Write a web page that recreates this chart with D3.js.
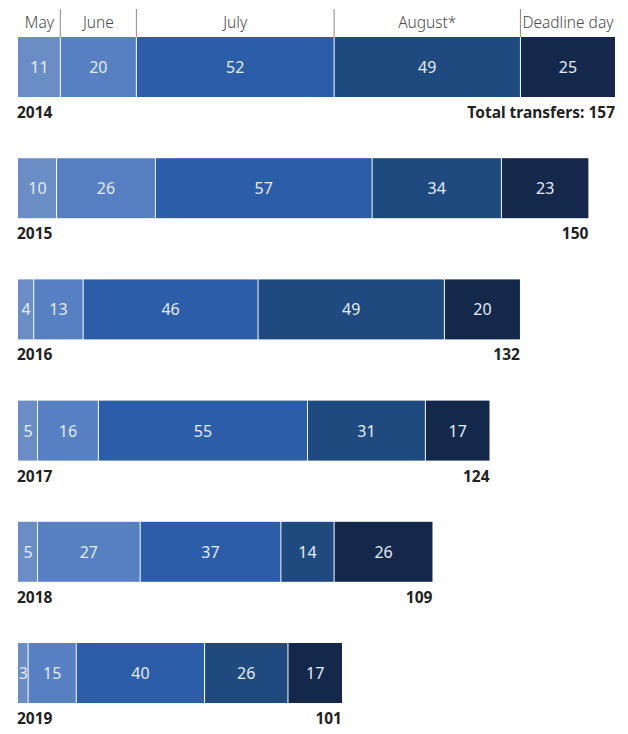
<!DOCTYPE html>
<html>
<head>
<meta charset="utf-8">
<script src="https://cdn.jsdelivr.net/npm/d3@7"></script>
<style>
  body { margin: 0; background: #fff; }
  svg { display: block; font-family: "Noto Sans", "Open Sans", sans-serif; }
  .month { font-size: 15.5px; fill: #4a4a4a; font-weight: 300; }
  .val { font-size: 16px; fill: #e4ecf7; }
  .year, .total { font-size: 15.5px; font-weight: 700; fill: #222; }
</style>
</head>
<body>
<svg id="chart" width="628" height="734"></svg>
<script>
const months = ["May", "June", "July", "August*", "Deadline day"];
const years = ["2014", "2015", "2016", "2017", "2018", "2019"];
const may      = [11, 10, 4, 5, 5, 3];
const june     = [20, 26, 13, 16, 27, 15];
const july     = [52, 57, 46, 55, 37, 40];
const august   = [49, 34, 49, 31, 14, 26];
const deadline = [25, 23, 20, 17, 26, 17];
const totals   = [157, 150, 132, 124, 109, 101];

const colors = ["#6b8dc6", "#5680c2", "#2c5da9", "#1f4a80", "#13284a"];

const rows = years.map((y, i) => ({
    year: y,
    total: totals[i],
    values: [may[i], june[i], july[i], august[i], deadline[i]]
}));

const svg = d3.select("#chart");

// all rows share one scale, except 2019 which the original draws narrower
const x = d3.scaleLinear().domain([0, 157]).range([18, 615]);
const x2019 = d3.scaleLinear().domain([0, 101]).range([18, 342]);

// top of each row's bar
const y = d3.scaleLinear().domain([0, years.length - 1]).range([37, 643]);

const barH = 60;

rows.forEach((r, i) => {
    const sx = r.year == "2019" ? x2019 : x;
    let acc = 0;
    const segs = r.values.map((v, j) => {
        const s = {v: v, j: j, x0: acc, x1: acc + v};
        acc += v;
        return s;
    });
    const g = svg.append("g").attr("transform", `translate(0,${y(i)})`);

    g.selectAll("rect")
        .data(segs)
        .enter()
        .append("rect")
        .attr("x", d => sx(d.x0) + (d.j > 0 ? 1 : 0))
        .attr("width", d => sx(d.x1) - sx(d.x0) - (d.j > 0 ? 1 : 0))
        .attr("y", 0)
        .attr("height", barH)
        .attr("fill", d => colors[d.j]);

    g.selectAll(".val")
        .data(segs)
        .enter()
        .append("text")
        .attr("class", "val")
        .attr("x", d => (sx(d.x0) + sx(d.x1)) / 2 + 0.5)
        .attr("y", barH / 2 + 6)
        .attr("text-anchor", "middle")
        .text(d => d.v);

    g.append("text")
        .attr("class", "year")
        .attr("x", 17)
        .attr("y", barH + 21)
        .text(r.year);

    g.append("text")
        .attr("class", "total")
        .attr("x", sx(r.total))
        .attr("y", barH + 21)
        .attr("text-anchor", "end")
        .text(i == 0 ? "Total transfers: " + r.total : r.total);

    if (i == 0) {
        // month headings and dividers over the first row
        svg.selectAll(".divider")
            .data(segs.slice(1))
            .enter()
            .append("line")
            .attr("class", "divider")
            .attr("x1", d => sx(d.x0) + 0.5)
            .attr("x2", d => sx(d.x0) + 0.5)
            .attr("y1", 9)
            .attr("y2", y(i))
            .attr("stroke", "#8a8a8a")
            .attr("stroke-width", 1);

        svg.selectAll(".month")
            .data(segs)
            .enter()
            .append("text")
            .attr("class", "month")
            .attr("x", d => (sx(d.x0) + sx(d.x1)) / 2 + 0.5)
            .attr("y", 28)
            .attr("text-anchor", "middle")
            .text(d => months[d.j]);
    }
});
</script>
</body>
</html>
